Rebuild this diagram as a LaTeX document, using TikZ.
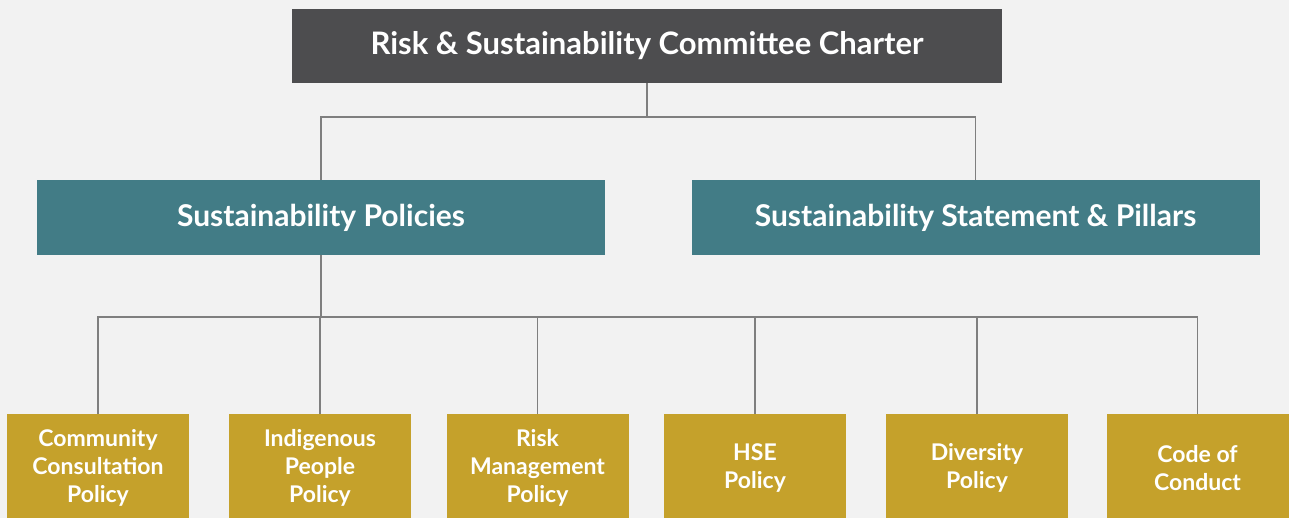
\documentclass[tikz,border=0pt]{standalone}
\usepackage{fontspec}
\setmainfont{Lato}
\usetikzlibrary{positioning}
\definecolor{paperGray}{HTML}{F2F2F2}
\definecolor{charterGray}{HTML}{4D4D4F}
\definecolor{pillarTeal}{HTML}{427C86}
\definecolor{policyGold}{HTML}{C5A12B}
\definecolor{linkGray}{HTML}{7F7F7F}
\newcommand{\policyWidth}{182pt}
\newcommand{\policyHeight}{108pt}
\newcommand{\policyTop}{414}
\newcommand{\busLow}{317}
\newcommand{\busHigh}{117}
\begin{document}
\begin{tikzpicture}[x=1pt, y=-1pt,
  headbox/.style={fill=charterGray, text=white, font=\bfseries\fontsize{31}{36}\selectfont, minimum width=710pt, minimum height=74pt, inner sep=0pt},
  pillarbox/.style={fill=pillarTeal, text=white, font=\bfseries\fontsize{30}{36}\selectfont, minimum width=568pt, minimum height=75pt, inner sep=0pt},
  policybox/.style={fill=policyGold, text=white, font=\bfseries\fontsize{23}{28}\selectfont, align=center, minimum width=\policyWidth, minimum height=\policyHeight, inner sep=0pt, anchor=north},
  link/.style={draw=linkGray, line width=1.5pt}]
      \clip (0,0) rectangle (1289,518);
      \fill [paperGray] (0,0) rectangle (1289,518);
      \node (charter) [headbox] at (647,46) {Risk \& Sustainability Committee Charter};
      \node (policies) [pillarbox] at (321,217.5) {Sustainability Policies};
      \node (statement) [pillarbox] at (975.5,217.5) {Sustainability Statement \& Pillars};
\node (pol1) [policybox] at (98,\policyTop) {Community\\Consultation\\Policy};
\node (pol2) [policybox] at (320,\policyTop) {Indigenous\\People\\Policy};
\node (pol3) [policybox] at (537.5,\policyTop) {Risk\\Management\\Policy};
\node (pol4) [policybox] at (755,\policyTop) {HSE\\Policy};
\node (pol5) [policybox] at (977,\policyTop) {Diversity\\Policy};
\node (pol6) [policybox] at (1197.5,\policyTop) {Code of\\Conduct};
      \coordinate (topbus) at (647,\busHigh);
      \coordinate (lowbus) at (321,\busLow);
\draw [link] (charter.south) -- (topbus);
\draw [link] (policies.north) |- (topbus) -| (statement.north);
\draw [link] (policies.south) -- (lowbus);
\foreach \n in {1,...,6}
  \draw [link] (pol\n.north) |- (lowbus);
      \end{tikzpicture}
\end{document}
